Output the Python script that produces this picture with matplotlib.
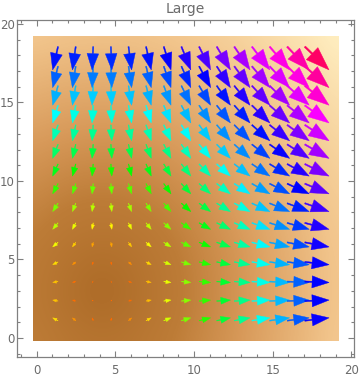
import colorsys

import matplotlib
matplotlib.use('Agg')
import matplotlib.pyplot as plt
import numpy as np
from matplotlib.colors import LinearSegmentedColormap
from matplotlib.patches import Rectangle
from matplotlib.ticker import MultipleLocator

# arrow grid (15 x 15, inside the 0..19 data range)
arrow_x = [1.19, 2.38, 3.56, 4.75, 5.94, 7.12, 8.31, 9.5, 10.69, 11.88, 13.06, 14.25, 15.44, 16.62, 17.81]
arrow_y = [1.19, 2.38, 3.56, 4.75, 5.94, 7.12, 8.31, 9.5, 10.69, 11.88, 13.06, 14.25, 15.44, 16.62, 17.81]
# horizontal component per column, vertical component per row
u_cols = [-3.4, -2.1, -0.7, 0.6, 2.0, 3.3, 4.6, 6.0, 7.3, 8.7, 10.0, 11.4, 12.7, 14.0, 15.4]
v_rows = [1.8, 0.6, -0.6, -1.75, -2.9, -4.1, -5.3, -6.5, -7.7, -8.9, -10.1, -11.2, -12.4, -13.6, -14.8]

# background samples at the integer data points 0..19
bg_u = [-4.7, -3.6, -2.5, -1.4, -0.2, 0.9, 2.0, 3.2, 4.3, 5.4,
        6.6, 7.7, 8.8, 9.9, 11.1, 12.2, 13.3, 14.4, 15.6, 16.7]
bg_v = [3, 2, 1, 0, -1, -2, -3, -4, -5, -6, -7, -8, -9, -10, -11, -12, -13, -14, -15, -16]

bg_cmap = LinearSegmentedColormap.from_list('sand', [
    (0.0, '#ad6b27'),
    (0.25, '#bd7c37'),
    (0.45, '#d89a5a'),
    (0.72, '#f2c58c'),
    (1.0, '#ffeec0'),
])

fig = plt.figure(figsize=(3.6, 3.77), dpi=100)
ax = fig.add_axes([0.047, 0.052, 0.937, 0.895])

U, V = np.meshgrid(bg_u, bg_v)
mag_bg = np.hypot(U, V)
im = ax.imshow(mag_bg, origin='lower', cmap=bg_cmap, interpolation='bicubic',
               extent=(-0.5, 19.5, -0.5, 19.5), vmin=0, vmax=mag_bg.max(), zorder=1)
clip = Rectangle((-0.2, -0.2), 19.4, 19.4, transform=ax.transData)
im.set_clip_path(clip)

scale = 0.1
for j, y in enumerate(arrow_y):
    for i, x in enumerate(arrow_x):
        u, v = u_cols[i], v_rows[j]
        m = np.hypot(u, v)
        hue = min(max(-0.027 + 0.045 * m, 0.07), 0.95)
        color = colorsys.hsv_to_rgb(hue, 1.0, 1.0)
        L = scale * m
        dx, dy = u / m * L, v / m * L
        ax.arrow(x - dx / 2, y - dy / 2, dx, dy, width=0.05 * L,
                 head_width=0.5 * L, head_length=0.7 * L,
                 length_includes_head=True, fc=color, ec=color, lw=0.3, zorder=3)

ax.set_xlim(-1.25, 20.18)
ax.set_ylim(-1.24, 20.25)
ax.set_aspect('auto')

frame_col = '#808080'
for s in ax.spines.values():
    s.set_color(frame_col)
    s.set_linewidth(0.9)
ax.xaxis.set_major_locator(MultipleLocator(5))
ax.xaxis.set_minor_locator(MultipleLocator(1))
ax.yaxis.set_major_locator(MultipleLocator(5))
ax.yaxis.set_minor_locator(MultipleLocator(1))
ax.tick_params(which='both', direction='in', top=True, right=True, color=frame_col,
               labelcolor='#6b6b6b', labelsize=8.5, width=0.8)
ax.tick_params(which='major', length=4)
ax.tick_params(which='minor', length=2.5)
ax.tick_params(axis='x', pad=5)
ax.tick_params(axis='y', pad=1.5)

ax.set_title('Large', color='#6b6b6b', fontsize=10, pad=5)

fig.savefig('out.png', dpi=100)
